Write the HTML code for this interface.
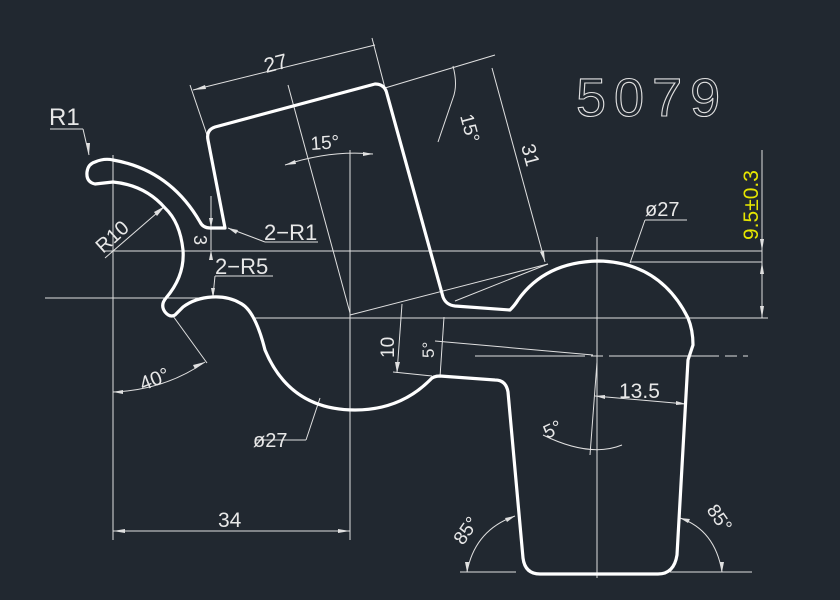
<!DOCTYPE html>
<html><head><style>
html,body{margin:0;padding:0;background:#212830;}
svg{display:block}
text{font-family:"Liberation Sans",sans-serif;fill:#e8e8e8;}
</style></head><body>
<svg width="840" height="600" viewBox="0 0 840 600" xmlns="http://www.w3.org/2000/svg">
<rect width="840" height="600" fill="#212830"/>
<g stroke="#e0e0e0" stroke-width="1" fill="none">
<line x1="105" y1="251" x2="762" y2="251"/>
<line x1="45" y1="298" x2="200" y2="298"/>
<line x1="255" y1="318" x2="768" y2="318"/>
<line x1="630" y1="262" x2="762" y2="262"/>
<line x1="113" y1="155" x2="113" y2="540"/>
<line x1="350" y1="150" x2="350" y2="540"/>
<line x1="597" y1="237" x2="597" y2="578"/>
<line x1="475" y1="356" x2="748" y2="356" stroke-dasharray="110,6,12,6"/>
<line x1="288" y1="85" x2="350" y2="313"/>
<line x1="350" y1="315" x2="548" y2="264"/>
<line x1="762" y1="150" x2="762" y2="318"/>
<line x1="193" y1="90" x2="375" y2="45"/>
<line x1="190" y1="85" x2="207" y2="135"/>
<line x1="372" y1="38" x2="385" y2="88"/>
<line x1="385" y1="88" x2="495" y2="55"/>
<line x1="492" y1="68" x2="545" y2="262"/>
<line x1="455" y1="301" x2="548" y2="264"/>
<path d="M453,66 Q458,85 453,98 L438,142"/>
<path d="M285,165 Q330,150 373,154"/>
<line x1="50" y1="129" x2="83" y2="129"/>
<line x1="83" y1="129" x2="89" y2="155"/>
<line x1="228" y1="228" x2="265" y2="242"/>
<line x1="265" y1="242" x2="318" y2="242"/>
<line x1="211" y1="196" x2="211" y2="250"/>
<line x1="215" y1="276" x2="273" y2="276"/>
<line x1="215" y1="276" x2="213" y2="296"/>
<line x1="105" y1="258" x2="165" y2="206"/>
<line x1="173" y1="316" x2="207" y2="363"/>
<path d="M113,392 Q165,390 205,362"/>
<line x1="320" y1="398" x2="306" y2="440"/>
<line x1="255" y1="440" x2="306" y2="440"/>
<line x1="113" y1="531" x2="350" y2="531"/>
<line x1="630" y1="263" x2="645" y2="220"/>
<line x1="645" y1="220" x2="687" y2="220"/>
<line x1="402" y1="304" x2="397" y2="373"/>
<line x1="393" y1="372" x2="432" y2="376"/>
<line x1="444" y1="317" x2="440" y2="377"/>
<line x1="435" y1="341" x2="593" y2="355"/>
<line x1="595" y1="396" x2="686" y2="404"/>
<line x1="597" y1="362" x2="590" y2="455"/>
<path d="M543,435 Q590,458 622,445"/>
<line x1="460" y1="572" x2="516" y2="572"/>
<path d="M467,572 Q475,530 515,516"/>
<line x1="670" y1="572" x2="752" y2="572"/>
<path d="M722,572 Q715,530 680,518"/>
</g>
<g fill="#e0e0e0">
<polygon points="762,318 760,306 764,306"/>
<polygon points="762,262 760,274 764,274"/>
<polygon points="762,251 760,239 764,239"/>
<polygon points="545,262 540,252 544,251"/>
<polygon points="193,90 205,85 206,89"/>
<polygon points="211,228 209,218 213,218"/>
<polygon points="211,250 209,260 213,260"/>
<polygon points="165,206 157,216 154,212"/>
<polygon points="89,155 86,143 90,143"/>
<polygon points="228,228 238,230 236,234"/>
<polygon points="213,298 211,288 215,288"/>
<polygon points="205,362 195,369 193,365"/>
<polygon points="113,392 123,390 123,394"/>
<polygon points="113,531 125,529 125,533"/>
<polygon points="350,531 338,529 338,533"/>
<polygon points="397,373 395,362 400,362"/>
<polygon points="595,396 605,395 605,399"/>
<polygon points="686,404 676,401 676,405"/>
<polygon points="515,516 505,518 507,522"/>
<polygon points="680,518 690,519 688,523"/>
<polygon points="467,572 465,562 469,562"/>
<polygon points="722,572 720,562 724,562"/>
<polygon points="285,165 295,160 296,164"/>
<polygon points="373,154 363,152 363,156"/>
</g>
<path fill="none" stroke="#ffffff" stroke-width="3.2" stroke-linejoin="round"
d="M95,162 Q104,158 113,160 Q170,170 200,222 Q203,228 210,228 L225,228 L208,140 Q206,130 215,127 L375,84 Q385,84 387,94 L443,297 Q446,305 455,306 L510,310 Q515,305 518,300 Q545,262 598,261 Q660,262 688,318 Q693,330 693,345 L688,360 L677,555 Q674,574 658,574 L540,574 Q525,574 523,558 L508,392 Q506,380 495,380 L440,376 Q433,376 430,380 Q400,410 355,410 Q290,410 265,350 Q255,310 240,303 Q228,296 212,297 Q195,298 183,307 L175,315 Q170,318 165,312 Q160,305 166,298 Q185,276 183,250 Q180,222 165,208 Q145,185 113,182 L95,184 Q86,182 87,172 Q88,164 95,162 Z"/>
<text x="576" y="116" font-size="54" style="fill:none;stroke:#e0e0e0;stroke-width:1.1;letter-spacing:8px">5079</text>
<text x="49" y="125" font-size="24">R1</text>
<text x="0" y="0" font-size="21" transform="translate(266,73) rotate(-14)">27</text>
<text x="0" y="0" font-size="19" transform="translate(311,150) rotate(-4)">15°</text>
<text x="0" y="0" font-size="19" transform="translate(460,116) rotate(75)">15°</text>
<text x="0" y="0" font-size="20" transform="translate(521,146) rotate(75)">31</text>
<text x="0" y="0" font-size="21" transform="translate(758,240) rotate(-90)" style="fill:#e6e600">9.5±0.3</text>
<text x="264" y="240" font-size="22">2−R1</text>
<text x="215" y="274" font-size="22">2−R5</text>
<text x="0" y="0" font-size="18" transform="translate(194,235) rotate(90)">3</text>
<text x="0" y="0" font-size="20" transform="translate(103,254) rotate(-42)">R10</text>
<text x="0" y="0" font-size="20" transform="translate(143,391) rotate(-22)">40°</text>
<text x="253" y="447" font-size="20">ø27</text>
<text x="218" y="527" font-size="21">34</text>
<text x="645" y="216" font-size="20">ø27</text>
<text x="0" y="0" font-size="19" transform="translate(394,358) rotate(-90)">10</text>
<text x="0" y="0" font-size="17" transform="translate(434,358) rotate(-90)">5°</text>
<text x="619" y="398" font-size="21">13.5</text>
<text x="0" y="0" font-size="19" transform="translate(547,439) rotate(-25)">5°</text>
<text x="0" y="0" font-size="19" transform="translate(463,546) rotate(-55)">85°</text>
<text x="0" y="0" font-size="19" transform="translate(706,510) rotate(55)">85°</text>
</svg>
</body></html>
